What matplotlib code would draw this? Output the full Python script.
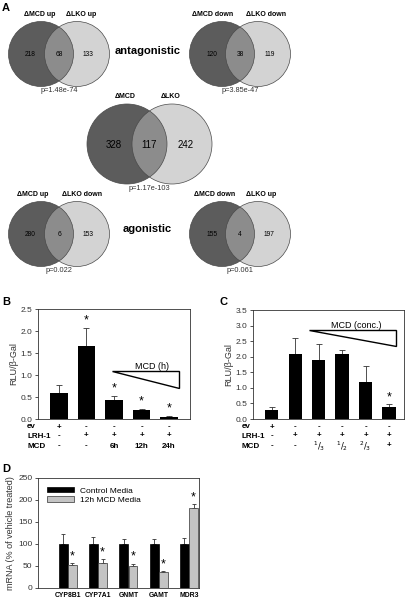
import matplotlib
matplotlib.use("Agg")
import matplotlib.pyplot as plt
from matplotlib.patches import Circle, Polygon
from matplotlib.transforms import blended_transform_factory
import numpy as np

plt.rcParams['font.family'] = ['Liberation Sans', 'DejaVu Sans']

# ---------------- data ----------------
venn_labels_left = ["ΔMCD up", "ΔMCD down", "ΔMCD", "ΔMCD up", "ΔMCD down"]
venn_labels_right = ["ΔLKO up", "ΔLKO down", "ΔLKO", "ΔLKO down", "ΔLKO up"]
venn_left_only = [218, 120, 328, 280, 155]
venn_overlap = [68, 38, 117, 6, 4]
venn_right_only = [133, 119, 242, 153, 197]
venn_pvalues = ["p=1.48e-74", "p=3.85e-47", "p=1.17e-103", "p=0.022", "p=0.061"]

b_values = [0.6, 1.65, 0.43, 0.2, 0.05]
b_errors = [0.17, 0.42, 0.10, 0.03, 0.02]
b_star = [False, True, True, True, True]
b_ev = ["+", "-", "-", "-", "-"]
b_lrh = ["-", "+", "+", "+", "+"]
b_mcd = ["-", "-", "6h", "12h", "24h"]

c_values = [0.3, 2.1, 1.9, 2.1, 1.2, 0.4]
c_errors = [0.1, 0.5, 0.5, 0.1, 0.5, 0.07]
c_star = [False, False, False, False, False, True]
c_ev = ["+", "-", "-", "-", "-", "-"]
c_lrh = ["-", "+", "+", "+", "+", "+"]
c_mcd = ["-", "-", r"$^{1}/_{3}$", r"$^{1}/_{2}$", r"$^{2}/_{3}$", "+"]

d_genes = ["CYP8B1", "CYP7A1", "GNMT", "GAMT", "MDR3"]
d_control = [100, 100, 100, 100, 100]
d_control_err = [22, 16, 11, 11, 13]
d_mcd = [52, 56, 50, 36, 181]
d_mcd_err = [4, 10, 5, 3, 9]
d_series = ["Control Media", "12h MCD Media"]

W, H = 408, 600
fig = plt.figure(figsize=(W / 100, H / 100), dpi=100)

def fy(px):
    return 1 - px / H

# ---------------- panel A: Venn ----------------
axA = fig.add_axes([0, 0.5, 1, 0.5])
axA.set_xlim(0, W)
axA.set_ylim(300, 0)
axA.axis("off")

DARK = "#5c5c5c"
LIGHT = "#b2b2b2"
EDGE = "#4a4a4a"
# (cx_left, cx_right, cy, r, big, label_x_left, label_x_right)
venn_layout = [
    (41, 77, 54, 32.5, False, 40, 81),
    (222, 258, 54, 32.5, False, 213, 266),
    (127, 172, 144, 40, True, 125, 171),
    (41, 77, 234, 32.5, False, 33, 82),
    (222, 258, 234, 32.5, False, 215, 261),
]
for i, (xl, xr, cy, r, big, lxl, lxr) in enumerate(venn_layout):
    axA.add_patch(Circle((xl, cy), r, facecolor=DARK, edgecolor="none", zorder=1))
    axA.add_patch(Circle((xr, cy), r, facecolor=LIGHT, alpha=0.56, edgecolor="none", zorder=2))
    axA.add_patch(Circle((xl, cy), r, facecolor="none", edgecolor=EDGE, lw=0.5, zorder=3))
    axA.add_patch(Circle((xr, cy), r, facecolor="none", edgecolor=EDGE, lw=0.5, zorder=3))
    nfs = 7 if big else 4.8
    axA.text(xl - r * 0.32, cy + 1, str(venn_left_only[i]), ha="center", va="center", fontsize=nfs, zorder=4)
    axA.text((xl + xr) / 2, cy + 1, str(venn_overlap[i]), ha="center", va="center", fontsize=nfs, zorder=4)
    axA.text(xr + r * 0.35, cy + 1, str(venn_right_only[i]), ha="center", va="center", fontsize=nfs, zorder=4)
    lfs = 5.0
    axA.text(lxl, cy - r - 3.5, venn_labels_left[i], ha="center", va="bottom", fontsize=lfs, fontweight="bold")
    axA.text(lxr, cy - r - 3.5, venn_labels_right[i], ha="center", va="bottom", fontsize=lfs, fontweight="bold")
    axA.text((xl + xr) / 2, cy + r + 1, venn_pvalues[i], ha="center", va="top", fontsize=5.3, color="#333333")

axA.text(148, 51, "antagonistic", ha="center", va="center", fontsize=8, fontweight="bold")
axA.text(147, 229, "agonistic", ha="center", va="center", fontsize=8, fontweight="bold")
axA.text(2, 3, "A", ha="left", va="top", fontsize=8, fontweight="bold")

TICK_FS = 6

def style_axis(ax):
    for s in ax.spines.values():
        s.set_linewidth(0.6)
        s.set_color("#333333")
    ax.tick_params(axis="y", direction="out", length=2.5, width=0.6, labelsize=TICK_FS, colors="#333333", pad=1.5)
    ax.tick_params(axis="x", length=0)

def errbar(ax, x, y, e, cap):
    ax.errorbar(x, y, yerr=[np.zeros(len(e)), e], fmt="none", ecolor="#333333",
                elinewidth=0.6, capsize=cap, capthick=0.6, zorder=1)

# ---------------- panel B ----------------
axB = fig.add_axes([38 / W, fy(419), 152 / W, 110 / H])
xb = np.arange(len(b_values))
errbar(axB, xb, b_values, b_errors, 2.0)
axB.bar(xb, b_values, width=0.65, color="black", zorder=2)
for i in range(len(b_values)):
    if b_star[i]:
        axB.text(xb[i], b_values[i] + b_errors[i] + 0.03, "*", ha="center", va="bottom", fontsize=9)
axB.set_xlim(-0.76, 4.76)
axB.set_ylim(0, 2.5)
axB.set_yticks(np.arange(0, 2.51, 0.5))
axB.set_yticklabels([f"{v:.1f}" for v in np.arange(0, 2.51, 0.5)])
axB.set_xticks([])
axB.set_ylabel("RLU/β-Gal", fontsize=6.5, labelpad=2, color="#333333")
style_axis(axB)
axB.add_patch(Polygon([(1.93, 1.09), (4.37, 1.09), (4.37, 0.70)], closed=True,
                      facecolor="white", edgecolor="black", lw=1.0, zorder=3))
axB.text(3.39, 1.19, "MCD (h)", ha="center", va="center", fontsize=6.5)

trB = blended_transform_factory(axB.transData, fig.transFigure)
for lab, row, ypx in [("ev", b_ev, 427), ("LRH-1", b_lrh, 436), ("MCD", b_mcd, 446)]:
    fig.text(27 / W, fy(ypx), lab, ha="left", va="center", fontsize=5.8, fontweight="bold")
    for i, v in enumerate(row):
        axB.text(xb[i], fy(ypx), v, ha="center", va="center", fontsize=5.8, fontweight="bold",
                 transform=trB, clip_on=False)
fig.text(2 / W, fy(297), "B", ha="left", va="top", fontsize=8, fontweight="bold")

# ---------------- panel C ----------------
axC = fig.add_axes([253 / W, fy(419), 151 / W, 109 / H])
xc = np.arange(len(c_values))
errbar(axC, xc, c_values, c_errors, 2.0)
axC.bar(xc, c_values, width=0.57, color="black", zorder=2)
for i in range(len(c_values)):
    if c_star[i]:
        axC.text(xc[i], c_values[i] + c_errors[i] + 0.03, "*", ha="center", va="bottom", fontsize=9)
axC.set_xlim(-0.8, 5.64)
axC.set_ylim(0, 3.5)
axC.set_yticks(np.arange(0, 3.51, 0.5))
axC.set_yticklabels([f"{v:.1f}" for v in np.arange(0, 3.51, 0.5)])
axC.set_xticks([])
axC.set_ylabel("RLU/β-Gal", fontsize=6.5, labelpad=2, color="#333333")
style_axis(axC)
axC.add_patch(Polygon([(1.57, 2.86), (5.3, 2.86), (5.3, 2.35)], closed=True,
                      facecolor="white", edgecolor="black", lw=1.0, zorder=3))
axC.text(3.6, 3.0, "MCD (conc.)", ha="center", va="center", fontsize=6.5)

trC = blended_transform_factory(axC.transData, fig.transFigure)
for lab, row, ypx in [("ev", c_ev, 427), ("LRH-1", c_lrh, 436), ("MCD", c_mcd, 446)]:
    fig.text(242 / W, fy(ypx), lab, ha="left", va="center", fontsize=5.8, fontweight="bold")
    for i, v in enumerate(row):
        axC.text(xc[i], fy(ypx), v, ha="center", va="center", fontsize=5.8 if "$" not in v else 6,
                 fontweight="bold", transform=trC, clip_on=False)
fig.text(220 / W, fy(297), "C", ha="left", va="top", fontsize=8, fontweight="bold")

# ---------------- panel D ----------------
axD = fig.add_axes([38 / W, fy(588), 161 / W, 110 / H])
xd = np.arange(len(d_genes))
bw = 0.29
off = 0.15
errbar(axD, xd - off, d_control, d_control_err, 1.6)
errbar(axD, xd + off, d_mcd, d_mcd_err, 1.6)
axD.bar(xd - off, d_control, width=bw, color="black", edgecolor="black", lw=0.5, zorder=2, label=d_series[0])
axD.bar(xd + off, d_mcd, width=bw, color="#c4c4c4", edgecolor="#333333", lw=0.5, zorder=2, label=d_series[1])
for i in range(len(d_genes)):
    axD.text(xd[i] + off, d_mcd[i] + d_mcd_err[i] + 2, "*", ha="center", va="bottom", fontsize=9)
axD.set_xlim(-0.98, 4.33)
axD.set_ylim(0, 250)
axD.set_yticks(np.arange(0, 251, 50))
axD.set_xticks(xd)
axD.set_xticklabels(d_genes, fontsize=4.9, fontweight="bold")
axD.set_ylabel("mRNA (% of vehicle treated)", fontsize=6.5, labelpad=2, color="#333333")
style_axis(axD)
axD.tick_params(axis="x", pad=3)
axD.legend(loc="upper left", frameon=False, fontsize=6, handlelength=3.2, handleheight=0.6,
           borderaxespad=0.3, labelspacing=0.2, bbox_to_anchor=(0.02, 0.97))
fig.text(2 / W, fy(464), "D", ha="left", va="top", fontsize=8, fontweight="bold")

fig.savefig("out.png", dpi=100)
